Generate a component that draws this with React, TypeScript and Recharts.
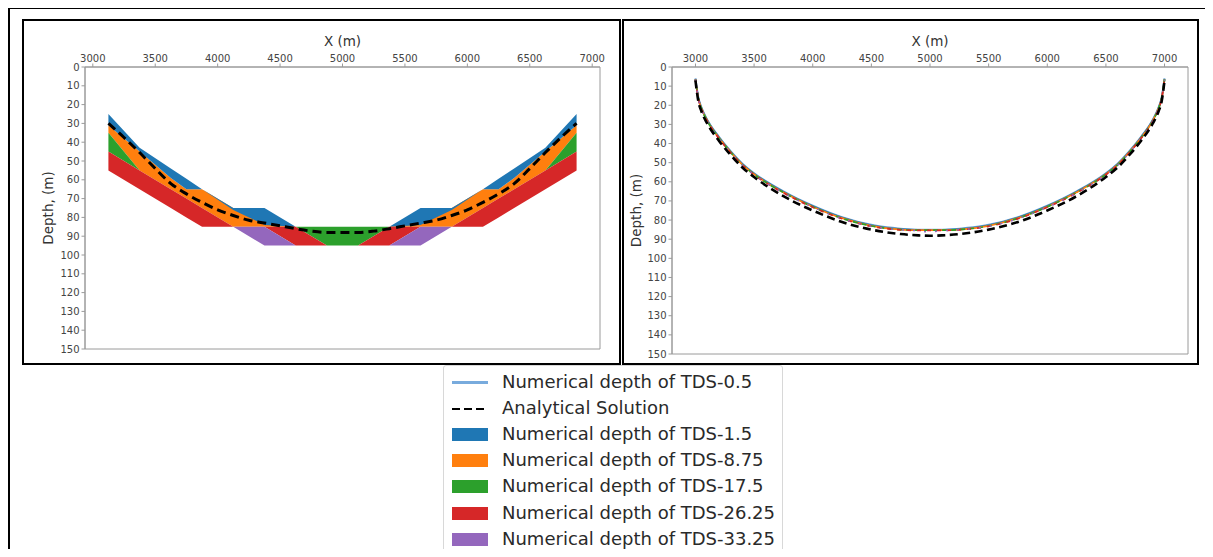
import React from "react";
import { ComposedChart, Area, Line, XAxis, YAxis, Label, ReferenceArea } from "recharts";

type Band = [number, number] | null;

const FONT = "'DejaVu Sans', 'Liberation Sans', sans-serif";

const X_TICKS = [3000, 3500, 4000, 4500, 5000, 5500, 6000, 6500, 7000];
const DEPTH_TICKS = [0, 10, 20, 30, 40, 50, 60, 70, 80, 90, 100, 110, 120, 130, 140, 150];
const X_LABEL = "X (m)";
const Y_LABEL = "Depth, (m)";

const LEGEND_LABELS = [
  "Numerical depth of TDS-0.5",
  "Analytical Solution",
  "Numerical depth of TDS-1.5",
  "Numerical depth of TDS-8.75",
  "Numerical depth of TDS-17.5",
  "Numerical depth of TDS-26.25",
  "Numerical depth of TDS-33.25",
];

const COLORS = {
  tds0_5: "#78abdd",
  tds1_5: "#1f77b4",
  tds8_75: "#ff7f0e",
  tds17_5: "#2ca02c",
  tds26_25: "#d62728",
  tds33_25: "#9467bd",
};

// ---------- left panel: depth bands (top, bottom) per x ----------
const LEFT_X = [3125, 3375, 3625, 3750, 3875, 4125, 4375, 4625, 4875, 5125, 5375, 5625, 5875, 6125, 6250, 6375, 6625, 6875];
const TDS_8_75_BAND: Band[] = [[31, 35], [45, 55], [59, 65], [65, 70], [65, 75], [75, 85], [80, 85], [85, 85], null, null, [85, 85], [80, 85], [75, 85], [65, 75], [65, 70], [59, 65], [45, 55], [31, 35]];
const TDS_1_5_BAND: Band[] = [[25, 31], [43, 45], [54, 59], [59.5, 65], [65, 65], [75, 76], [75, 84], [85, 85], null, null, [85, 85], [75, 84], [75, 76], [65, 65], [59.5, 65], [54, 59], [43, 45], [25, 31]];
const TDS_17_5_BAND: Band[] = [[35, 45], [55, 55], null, null, null, null, null, [85, 85], [85, 95], [85, 95], [85, 85], null, null, null, null, null, [55, 55], [35, 45]];
const TDS_26_25_BAND: Band[] = [[45, 55], [55, 65], [65, 75], [70, 80], [75, 85], [85, 85], [85, 85], [85, 95], [95, 95], [95, 95], [85, 95], [85, 85], [85, 85], [75, 85], [70, 80], [65, 75], [55, 65], [45, 55]];
const TDS_33_25_BAND: Band[] = [null, null, null, null, null, [85, 85], [85, 95], [95, 95], null, null, [95, 95], [85, 95], [85, 85], null, null, null, null, null];

const LEFT_ANALYTIC_X = [3125, 3250, 3375, 3500, 3625, 3750, 3875, 4000, 4125, 4250, 4375, 4500, 4625, 4750, 4875, 5000, 5125, 5250, 5375, 5500, 5625, 5750, 5875, 6000, 6125, 6250, 6375, 6500, 6625, 6750, 6875];
const LEFT_ANALYTIC_DEPTH = [30, 37.5, 45.5, 54, 62, 67.5, 72, 76, 79, 81.5, 83, 84.5, 86, 87.3, 88, 88, 88, 87.3, 86, 84.5, 83, 81.5, 79, 76, 72, 67.5, 62, 54, 45.5, 37.5, 30];

// ---------- right panel: depth curves ----------
const RIGHT_X = [3000, 3010, 3025, 3050, 3100, 3200, 3300, 3400, 3500, 3750, 4000, 4250, 4500, 4750, 4900, 5000, 5100, 5250, 5500, 5750, 6000, 6250, 6500, 6600, 6700, 6800, 6900, 6950, 6975, 6990, 7000];
const RIGHT_ANALYTIC = [7, 12, 18, 23, 29.5, 38.5, 46, 52.5, 57.5, 67.5, 75, 81, 85, 87.3, 88, 88.2, 88, 87.3, 85, 81, 75, 67.5, 57.5, 52.5, 46, 38.5, 29.5, 23, 18, 12, 7];
const NUM_TDS_0_5 = [6, 10.5, 16, 21, 27.5, 36.5, 44, 50.5, 55.5, 65, 72.5, 78.5, 82.5, 84.5, 85, 85, 85, 84.5, 82.5, 78.5, 72.5, 65, 55.5, 50.5, 44, 36.5, 27.5, 21, 16, 10.5, 6];
const NUM_TDS_1_5 = [6.2, 10.7, 16.2, 21.2, 27.7, 36.7, 44.2, 50.7, 55.7, 65.2, 72.7, 78.7, 82.7, 84.7, 85.1, 85.1, 85.1, 84.7, 82.7, 78.7, 72.7, 65.2, 55.7, 50.7, 44.2, 36.7, 27.7, 21.2, 16.2, 10.7, 6.2];
const NUM_TDS_8_75 = [6.5, 11, 16.5, 21.5, 28, 37, 44.5, 51, 56, 65.5, 73, 79, 83, 85, 85.3, 85.3, 85.3, 85, 83, 79, 73, 65.5, 56, 51, 44.5, 37, 28, 21.5, 16.5, 11, 6.5];
const NUM_TDS_17_5 = [6.5, 11, 16.6, 21.6, 28.1, 37.1, 44.6, 51.1, 56.1, 65.6, 73.1, 79.1, 83.1, 85, 85.3, 85.3, 85.3, 85, 83.1, 79.1, 73.1, 65.6, 56.1, 51.1, 44.6, 37.1, 28.1, 21.6, 16.6, 11, 6.5];
const NUM_TDS_26_25 = [6.6, 11.1, 16.7, 21.7, 28.3, 37.3, 44.8, 51.3, 56.3, 65.8, 73.3, 79.3, 83.3, 85.1, 85.4, 85.4, 85.4, 85.1, 83.3, 79.3, 73.3, 65.8, 56.3, 51.3, 44.8, 37.3, 28.3, 21.7, 16.7, 11.1, 6.6];
const NUM_TDS_33_25 = [6.6, 11.1, 16.7, 21.7, 28.3, 37.3, 44.8, 51.3, 56.3, 65.8, 73.3, 79.3, 83.3, 85.1, 85.6, 86.2, 85.6, 85.1, 83.3, 79.3, 73.3, 65.8, 56.3, 51.3, 44.8, 37.3, 28.3, 21.7, 16.7, 11.1, 6.6];

const leftBands = LEFT_X.map((x, i) => ({
  x,
  tds1_5: TDS_1_5_BAND[i],
  tds8_75: TDS_8_75_BAND[i],
  tds17_5: TDS_17_5_BAND[i],
  tds26_25: TDS_26_25_BAND[i],
  tds33_25: TDS_33_25_BAND[i],
}));
const leftAnalytic = LEFT_ANALYTIC_X.map((x, i) => ({ x, depth: LEFT_ANALYTIC_DEPTH[i] }));
const rightData = RIGHT_X.map((x, i) => ({
  x,
  analytic: RIGHT_ANALYTIC[i],
  tds0_5: NUM_TDS_0_5[i],
  tds1_5: NUM_TDS_1_5[i],
  tds8_75: NUM_TDS_8_75[i],
  tds17_5: NUM_TDS_17_5[i],
  tds26_25: NUM_TDS_26_25[i],
  tds33_25: NUM_TDS_33_25[i],
}));

const AXIS_COLOR = "#9a9a9a";
const TICK_STYLE = { fontSize: 10, fill: "#444", fontFamily: FONT };
const LABEL_STYLE = { fontSize: 13.5, fill: "#333", fontFamily: FONT };

const depthLabel = (dx: number) => (props: any) => {
  const vb = props.viewBox || { x: 0, y: 0, width: 0, height: 0 };
  const cx = vb.x + dx;
  const cy = vb.y + vb.height / 2;
  return (
    <text
      x={cx}
      y={cy}
      transform={`rotate(-90 ${cx} ${cy})`}
      textAnchor="middle"
      dominantBaseline="central"
      fontSize={13.5}
      fill="#333"
      fontFamily={FONT}
    >
      {Y_LABEL}
    </text>
  );
};

function LeftChart() {
  const domain: [number, number] = [2937.5, 7062.5];
  return (
    <ComposedChart
      width={596}
      height={340}
      data={leftBands}
      margin={{ top: 15, right: 18, bottom: 13, left: 13 }}
    >
      <XAxis
        dataKey="x"
        type="number"
        orientation="top"
        domain={domain}
        ticks={X_TICKS}
        allowDataOverflow
        height={30}
        tick={TICK_STYLE}
        tickSize={3.5}
        tickMargin={2}
        stroke={AXIS_COLOR}
        tickLine={{ stroke: AXIS_COLOR }}
      >
        <Label value={X_LABEL} position="insideTop" offset={-1} style={LABEL_STYLE} />
      </XAxis>
      <YAxis
        type="number"
        reversed
        domain={[0, 150]}
        ticks={DEPTH_TICKS}
        interval={0}
        width={50}
        tick={TICK_STYLE}
        tickSize={3.5}
        tickMargin={2}
        stroke={AXIS_COLOR}
        tickLine={{ stroke: AXIS_COLOR }}
      >
        <Label content={depthLabel(13)} />
      </YAxis>
      <Area dataKey="tds8_75" type="linear" fill={COLORS.tds8_75} fillOpacity={1} stroke="none" isAnimationActive={false} dot={false} activeDot={false} />
      <Area dataKey="tds1_5" type="linear" fill={COLORS.tds1_5} fillOpacity={1} stroke="none" isAnimationActive={false} dot={false} activeDot={false} />
      <Area dataKey="tds17_5" type="linear" fill={COLORS.tds17_5} fillOpacity={1} stroke="none" isAnimationActive={false} dot={false} activeDot={false} />
      <Area dataKey="tds26_25" type="linear" fill={COLORS.tds26_25} fillOpacity={1} stroke="none" isAnimationActive={false} dot={false} activeDot={false} />
      <Area dataKey="tds33_25" type="linear" fill={COLORS.tds33_25} fillOpacity={1} stroke="none" isAnimationActive={false} dot={false} activeDot={false} />
      <Line data={leftAnalytic} dataKey="depth" type="monotone" stroke="#000" strokeWidth={3} strokeDasharray="9 5" dot={false} activeDot={false} isAnimationActive={false} />
      <ReferenceArea x1={domain[0]} x2={domain[1]} y1={0} y2={150} fill="none" fillOpacity={0} stroke={AXIS_COLOR} strokeWidth={1} ifOverflow="visible" />
    </ComposedChart>
  );
}

function RightChart() {
  const domain: [number, number] = [2800, 7200];
  const line = (key: string, color: string, width: number, dash?: string) => (
    <Line key={key} dataKey={key} type="monotone" stroke={color} strokeWidth={width} strokeDasharray={dash} dot={false} activeDot={false} isAnimationActive={false} />
  );
  return (
    <ComposedChart
      width={572}
      height={340}
      data={rightData}
      margin={{ top: 15, right: 8, bottom: 8, left: 8 }}
    >
      <XAxis
        dataKey="x"
        type="number"
        orientation="top"
        domain={domain}
        ticks={X_TICKS}
        allowDataOverflow
        height={30}
        tick={TICK_STYLE}
        tickSize={3.5}
        tickMargin={2}
        stroke={AXIS_COLOR}
        tickLine={{ stroke: AXIS_COLOR }}
      >
        <Label value={X_LABEL} position="insideTop" offset={-1} style={LABEL_STYLE} />
      </XAxis>
      <YAxis
        type="number"
        reversed
        domain={[0, 150]}
        ticks={DEPTH_TICKS}
        interval={0}
        width={40}
        tick={TICK_STYLE}
        tickSize={3.5}
        tickMargin={2}
        stroke={AXIS_COLOR}
        tickLine={{ stroke: AXIS_COLOR }}
      >
        <Label content={depthLabel(4)} />
      </YAxis>
      {line("tds0_5", COLORS.tds0_5, 2)}
      {line("tds1_5", COLORS.tds1_5, 1.7)}
      {line("tds8_75", COLORS.tds8_75, 1.7)}
      {line("tds17_5", COLORS.tds17_5, 1.7, "5 4")}
      {line("tds26_25", COLORS.tds26_25, 1.7, "4 6")}
      {line("tds33_25", COLORS.tds33_25, 1.5, "2 9")}
      {line("analytic", "#000", 2.6, "8 4.5")}
      <ReferenceArea x1={domain[0]} x2={domain[1]} y1={0} y2={150} fill="none" fillOpacity={0} stroke={AXIS_COLOR} strokeWidth={1} ifOverflow="visible" />
    </ComposedChart>
  );
}

function LegendBox() {
  const handleColors = [COLORS.tds0_5, "#000", COLORS.tds1_5, COLORS.tds8_75, COLORS.tds17_5, COLORS.tds26_25, COLORS.tds33_25];
  return (
    <div
      style={{
        position: "absolute",
        left: 443,
        top: 365,
        width: 340,
        height: 189,
        boxSizing: "border-box",
        border: "1px solid #d8d8d8",
        borderRadius: 3,
        background: "#fff",
        fontFamily: FONT,
      }}
    >
      {LEGEND_LABELS.map((label, i) => {
        const top = 8 + i * 26.1;
        let handle: React.ReactNode;
        if (i === 0) {
          handle = <div style={{ position: "absolute", left: 8, top: 7, width: 36, height: 3, background: handleColors[i] }} />;
        } else if (i === 1) {
          handle = (
            <svg style={{ position: "absolute", left: 8, top: 2 }} width={36} height={14}>
              <line x1={0} y1={7} x2={36} y2={7} stroke="#000" strokeWidth={2.2} strokeDasharray="8 4" />
            </svg>
          );
        } else {
          handle = <div style={{ position: "absolute", left: 8, top: 2, width: 36, height: 13, background: handleColors[i] }} />;
        }
        return (
          <div key={label} style={{ position: "absolute", left: 0, top, width: 338, height: 18 }}>
            {handle}
            <span style={{ position: "absolute", left: 58, top: -2, fontSize: 18, lineHeight: "20px", color: "#2a2a2a", whiteSpace: "nowrap" }}>{label}</span>
          </div>
        );
      })}
    </div>
  );
}

export default function App() {
  return (
    <div style={{ position: "relative", width: 1197, height: 541 }}>
      <div style={{ position: "absolute", left: 0, top: -1, width: 1205, height: 560, borderTop: "2px solid #000", borderLeft: "2px solid #000", borderRight: "2px solid #000", boxSizing: "border-box" }} />
      <div style={{ position: "absolute", left: 14, top: 11, width: 599, height: 346, border: "2px solid #000", boxSizing: "border-box" }} />
      <div style={{ position: "absolute", left: 614, top: 11, width: 577, height: 346, border: "2px solid #000", boxSizing: "border-box" }} />
      <div style={{ position: "absolute", left: 14, top: 14 }}>
        <LeftChart />
      </div>
      <div style={{ position: "absolute", left: 616, top: 14 }}>
        <RightChart />
      </div>
      <div style={{ position: "absolute", left: -8, top: -8 }}>
        <LegendBox />
      </div>
    </div>
  );
}
